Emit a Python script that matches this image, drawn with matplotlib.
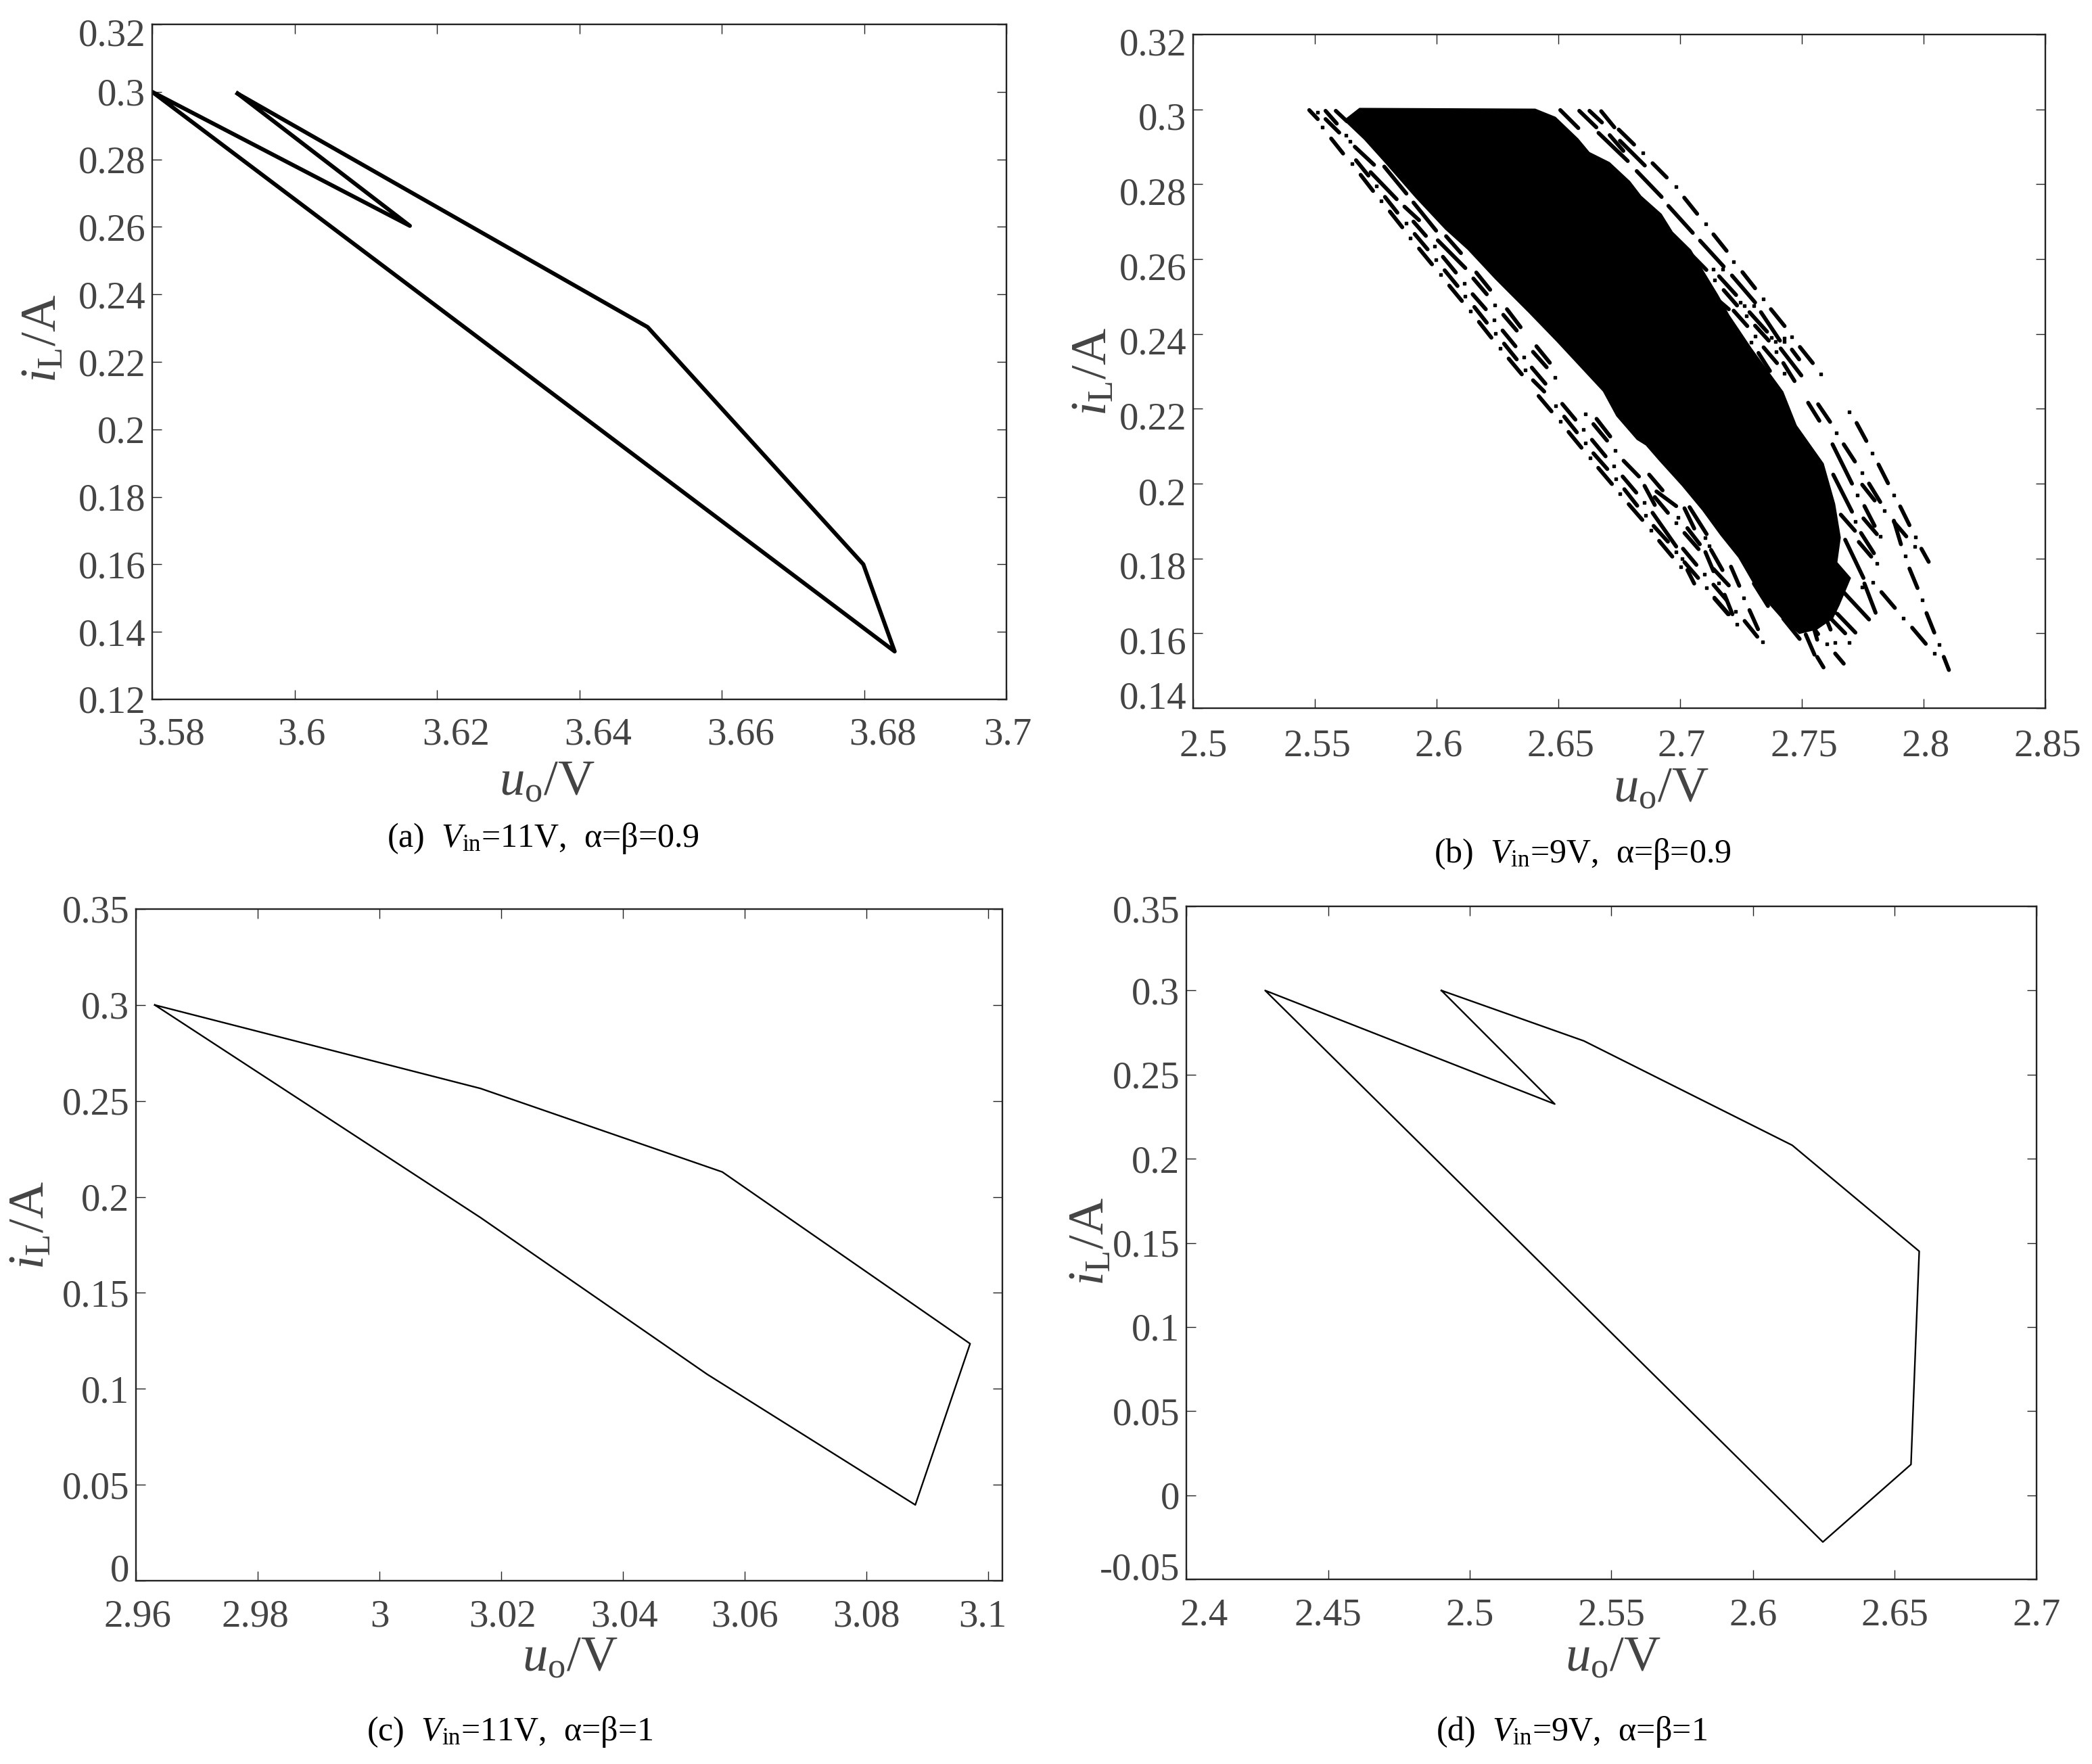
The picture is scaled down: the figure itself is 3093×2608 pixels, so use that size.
# Phase portraits iL - uo, four panels
import numpy as np
import matplotlib
matplotlib.use('Agg')
from matplotlib import pyplot as plt
from matplotlib.transforms import ScaledTranslation

plt.rcParams['font.family'] = ['Liberation Serif', 'DejaVu Serif']
plt.rcParams['mathtext.fontset'] = 'custom'
plt.rcParams['mathtext.rm'] = 'Liberation Serif'
plt.rcParams['mathtext.it'] = 'Liberation Serif:italic'

W, H = 3093, 2608
GREY = '#444444'

# panel (a)
a_u = [3.592, 3.6496, 3.6799, 3.6843, 3.58, 3.6162, 3.592]
a_i = [0.2995, 0.2303, 0.16, 0.1342, 0.3, 0.2603, 0.2995]
a_xticks = [3.58, 3.6, 3.62, 3.64, 3.66, 3.68, 3.7]
a_xlabels = ['3.58', '3.6', '3.62', '3.64', '3.66', '3.68', '3.7']
a_yticks = [0.12, 0.14, 0.16, 0.18, 0.2, 0.22, 0.24, 0.26, 0.28, 0.3, 0.32]
a_ylabels = ['0.12', '0.14', '0.16', '0.18', '0.2', '0.22', '0.24', '0.26', '0.28', '0.3', '0.32']

# panel (c)
c_u = [2.9631, 3.0166, 3.0563, 3.097, 3.088, 3.0538, 3.0166, 2.9631]
c_i = [0.3, 0.2565, 0.213, 0.1235, 0.0395, 0.1076, 0.1892, 0.3]
c_xticks = [2.96, 2.98, 3.0, 3.02, 3.04, 3.06, 3.08, 3.1]
c_xlabels = ['2.96', '2.98', '3', '3.02', '3.04', '3.06', '3.08', '3.1']
c_yticks = [0, 0.05, 0.1, 0.15, 0.2, 0.25, 0.3, 0.35]
c_ylabels = ['0', '0.05', '0.1', '0.15', '0.2', '0.25', '0.3', '0.35']

# panel (d)
d_u = [2.49, 2.5403, 2.6138, 2.6586, 2.6557, 2.6246, 2.4278, 2.53, 2.49]
d_i = [0.3, 0.27, 0.208, 0.145, 0.0183, -0.0278, 0.3, 0.2325, 0.3]
d_xticks = [2.4, 2.45, 2.5, 2.55, 2.6, 2.65, 2.7]
d_xlabels = ['2.4', '2.45', '2.5', '2.55', '2.6', '2.65', '2.7']
d_yticks = [-0.05, 0, 0.05, 0.1, 0.15, 0.2, 0.25, 0.3, 0.35]
d_ylabels = ['-0.05', '0', '0.05', '0.1', '0.15', '0.2', '0.25', '0.3', '0.35']

# panel (b): the solid black core, outline
b_core_u = [2.5683, 2.6405, 2.6489, 2.6582, 2.6628, 2.6711, 2.6795, 2.6841, 2.6924, 2.6970,
            2.7045, 2.7100, 2.7156, 2.7202, 2.7295, 2.7369, 2.7424, 2.7479, 2.7590, 2.7637,
            2.7660, 2.7646, 2.7702, 2.7655, 2.7628, 2.7563, 2.7489, 2.7424,
            2.7359, 2.7303, 2.7239, 2.7165, 2.7091, 2.7007, 2.6915, 2.6859, 2.6822, 2.6738, 2.6683,
            2.6493, 2.6377, 2.6294, 2.6239, 2.6127, 2.6035, 2.5914, 2.5785, 2.5702, 2.5618]
b_core_i = [0.3004, 0.3002, 0.2980, 0.2922, 0.2886, 0.2859, 0.2808, 0.2769, 0.2721, 0.2673,
            0.2625, 0.2565, 0.2505, 0.2451, 0.2361, 0.2295, 0.2246, 0.2156, 0.2054, 0.1946,
            0.1856, 0.1790, 0.1748, 0.1675, 0.1639, 0.1610, 0.1598, 0.1634,
            0.1682, 0.1730, 0.1802, 0.1862, 0.1928, 0.1994, 0.2060, 0.2102, 0.2117, 0.2180, 0.2246,
            0.2379, 0.2457, 0.2511, 0.2547, 0.2625, 0.2679, 0.2763, 0.2859, 0.2919, 0.2971]

# panel (b): dashes around the core, u start, i start, u end, i end
b_dashes = np.array([
    (2.5477, .2998, 2.5512, .2974), (2.5544, .2996, 2.5590, .2962), (2.5544, .2974, 2.5600, .2938),
    (2.5567, .2922, 2.5616, .2882), (2.5586, .2996, 2.5632, .2968), (2.5664, .2900, 2.5743, .2852),
    (2.5669, .2864, 2.5720, .2823), (2.5688, .2825, 2.5739, .2782), (2.5729, .2832, 2.5836, .2760),
    (2.5785, .2847, 2.5876, .2775), (2.5788, .2766, 2.5839, .2724), (2.5808, .2727, 2.5859, .2685),
    (2.5868, .2740, 2.5928, .2704), (2.5905, .2751, 2.5998, .2676), (2.5905, .2700, 2.5956, .2662),
    (2.5910, .2667, 2.5963, .2626), (2.5928, .2628, 2.5981, .2586), (2.6005, .2650, 2.6118, .2576),
    (2.6039, .2661, 2.6100, .2616), (2.6026, .2606, 2.6079, .2564), (2.6033, .2570, 2.6086, .2528),
    (2.6052, .2529, 2.6104, .2488), (2.6151, .2548, 2.6206, .2506), (2.6163, .2564, 2.6220, .2518),
    (2.6148, .2506, 2.6202, .2466), (2.6155, .2472, 2.6206, .2430), (2.6174, .2432, 2.6225, .2390),
    (2.6274, .2451, 2.6329, .2409), (2.6289, .2466, 2.6345, .2418), (2.6271, .2409, 2.6324, .2367),
    (2.6277, .2374, 2.6329, .2332), (2.6296, .2334, 2.6350, .2292), (2.6396, .2352, 2.6452, .2311),
    (2.6410, .2367, 2.6465, .2323), (2.6391, .2310, 2.6447, .2267), (2.6396, .2276, 2.6442, .2246),
    (2.6508, .2998, 2.6582, .2950), (2.6586, .2996, 2.6656, .2952), (2.6628, .2996, 2.6679, .2965),
    (2.6676, .2995, 2.6730, .2952), (2.6748, .2946, 2.6811, .2906), (2.6665, .2937, 2.6785, .2862),
    (2.6711, .2931, 2.6767, .2889), (2.6753, .2916, 2.6855, .2850), (2.6887, .2856, 2.6945, .2818),
    (2.6822, .2835, 2.6924, .2766), (2.7017, .2764, 2.7070, .2721), (2.6952, .2742, 2.7052, .2670),
    (2.7082, .2649, 2.7179, .2580), (2.7137, .2666, 2.7191, .2622), (2.7049, .2610, 2.7108, .2571),
    (2.7160, .2554, 2.7230, .2504), (2.7213, .2556, 2.7308, .2484), (2.7256, .2565, 2.7308, .2522),
    (2.7179, .2517, 2.7234, .2476), (2.7135, .2502, 2.7200, .2466), (2.7220, .2462, 2.7276, .2421),
    (2.7285, .2458, 2.7357, .2406), (2.7332, .2458, 2.7410, .2382), (2.7373, .2466, 2.7429, .2421),
    (2.7308, .2422, 2.7364, .2382), (2.7343, .2364, 2.7398, .2322), (2.7322, .2349, 2.7369, .2301),
    (2.7413, .2361, 2.7498, .2289), (2.7459, .2358, 2.7489, .2332), (2.7492, .2365, 2.7545, .2322),
    (2.7424, .2322, 2.7470, .2274),
    (2.6419, .2234, 2.6472, .2193), (2.6516, .2213, 2.6570, .2171), (2.6524, .2179, 2.6576, .2137),
    (2.6542, .2138, 2.6595, .2096), (2.6644, .2159, 2.6700, .2115), (2.6657, .2173, 2.6713, .2126),
    (2.6638, .2117, 2.6694, .2073), (2.6644, .2081, 2.6701, .2039), (2.6664, .2042, 2.6720, .1999),
    (2.6768, .2061, 2.6831, .2019), (2.6764, .2019, 2.6820, .1976), (2.6771, .1985, 2.6824, .1941),
    (2.6789, .1945, 2.6845, .1903), (2.6873, .2024, 2.6928, .1982), (2.6854, .1994, 2.6896, .1943),
    (2.6896, .1964, 2.6950, .1922), (2.6903, .1979, 2.6984, .1940), (2.6887, .1922, 2.6984, .1832),
    (2.6891, .1887, 2.6950, .1845), (2.6914, .1847, 2.6968, .1805), (2.7018, .1934, 2.7058, .1880),
    (2.7039, .1937, 2.7109, .1865), (2.7030, .1881, 2.7081, .1838), (2.7018, .1868, 2.7076, .1825),
    (2.7012, .1826, 2.7067, .1783), (2.7018, .1790, 2.7074, .1748), (2.7030, .1769, 2.7058, .1733),
    (2.7104, .1817, 2.7137, .1766), (2.7127, .1823, 2.7174, .1769), (2.7137, .1772, 2.7200, .1728),
    (2.7137, .1730, 2.7192, .1688), (2.7141, .1695, 2.7200, .1651), (2.7183, .1703, 2.7215, .1651),
    (2.7725, .2162, 2.7765, .2114), (2.7815, .2051, 2.7854, .2001), (2.7904, .1939, 2.7942, .1889),
    (2.7878, .1901, 2.7907, .1838), (2.7878, .1898, 2.7929, .1859), (2.7991, .1826, 2.8021, .1791),
    (2.7942, .1773, 2.7975, .1721), (2.8012, .1654, 2.8044, .1602), (2.7953, .1615, 2.8009, .1572),
    (2.8083, .1537, 2.8104, .1502), (2.7827, .1710, 2.7882, .1668), (2.7748, .1997, 2.7799, .1955),
    (2.7776, .2000, 2.7822, .1951), (2.7757, .1940, 2.7799, .1887), (2.7753, .1907, 2.7808, .1865),
    (2.7743, .1868, 2.7796, .1814), (2.7734, .1844, 2.7785, .1805), (2.7672, .2105, 2.7718, .2059),
    (2.7567, .2212, 2.7616, .2165), (2.7526, .2216, 2.7572, .2168), (2.7626, .2105, 2.7706, .2000),
    (2.7629, .2024, 2.7706, .1925), (2.7660, .1917, 2.7718, .1874), (2.7757, .1733, 2.7803, .1655),
    (2.7660, .1718, 2.7776, .1637), (2.7678, .1850, 2.7753, .1748), (2.7586, .1661, 2.7618, .1610),
    (2.7609, .1646, 2.7678, .1600), (2.7646, .1652, 2.7720, .1602), (2.7637, .1546, 2.7672, .1519),
    (2.7563, .1537, 2.7589, .1509), (2.7516, .1597, 2.7552, .1543), (2.7424, .1639, 2.7491, .1585),
    (2.7498, .1658, 2.7567, .1598), (2.7540, .1634, 2.7563, .1583), (2.7285, .1662, 2.7320, .1611),
    (2.7265, .1633, 2.7317, .1591), (2.7141, .1693, 2.7197, .1651), (2.7303, .1733, 2.7361, .1673),
    (2.7387, .1688, 2.7433, .1639), (2.7503, .1706, 2.7544, .1648), (2.7591, .1702, 2.7637, .1655),
    (2.7209, .1778, 2.7243, .1727),
])

# panel (b): single points between the dashes
b_dots_u = [2.5510, 2.5530, 2.5627, 2.5644, 2.5652, 2.5752, 2.5771, 2.5875, 2.5893, 2.5991, 2.5996,
            2.6016, 2.6114, 2.6118, 2.6139, 2.6239, 2.6235, 2.6241, 2.6260, 2.6357, 2.6364, 2.6487,
            2.6847, 2.6984, 2.7105, 2.7220, 2.7137, 2.7176, 2.7142, 2.7248, 2.7265, 2.7302, 2.7341,
            2.7271, 2.7308, 2.7292, 2.7376, 2.7427, 2.7427, 2.7392, 2.7458, 2.7395, 2.7577, 2.7429,
            2.6488, 2.6507, 2.6604, 2.6611, 2.6630, 2.6729, 2.6736, 2.6754, 2.6852, 2.6857, 2.6880,
            2.6982, 2.7009, 2.7002, 2.7101, 2.7107, 2.7158, 2.7227, 2.7232, 2.6993, 2.6982, 2.7102,
            2.7120, 2.6734, 2.6611, 2.7695, 2.7641, 2.7790, 2.7746, 2.7878, 2.7729, 2.7839, 2.7720,
            2.7967, 2.7965, 2.7822, 2.7926, 2.7808, 2.7791, 2.7995, 2.7917, 2.8063, 2.8044, 2.7339,
            2.7262, 2.7603, 2.7637, 2.7694, 2.7563, 2.7579, 2.7748]
b_dots_i = [.2993, .2953, .2930, .2914, .2855, .2795, .2755, .2696, .2656, .2634, .2598,
            .2559, .2535, .2500, .2460, .2478, .2437, .2402, .2362, .2338, .2304, .2284,
            .2883, .2793, .2694, .2593, .2572, .2572, .2544, .2485, .2476, .2476, .2494,
            .2449, .2394, .2377, .2390, .2388, .2379, .2379, .2392, .2352, .2293, .2295,
            .2207, .2167, .2144, .2109, .2069, .2047, .2012, .1972, .1949, .1915, .1875,
            .1818, .1799, .1778, .1757, .1721, .1734, .1659, .1624, .1910, .1895, .1856,
            .1833, .2089, .2186, .2192, .2135, .2082, .2029, .1970, .1970, .1928, .1898,
            .1858, .1832, .1859, .1806, .1786, .1737, .1689, .1641, .1569, .1546, .1578,
            .1695, .1572, .1576, .1575, .1695, .1673, .1724]
b_xticks = [2.5, 2.55, 2.6, 2.65, 2.7, 2.75, 2.8, 2.85]
b_xlabels = ['2.5', '2.55', '2.6', '2.65', '2.7', '2.75', '2.8', '2.85']
b_yticks = [0.14, 0.16, 0.18, 0.2, 0.22, 0.24, 0.26, 0.28, 0.3, 0.32]
b_ylabels = ['0.14', '0.16', '0.18', '0.2', '0.22', '0.24', '0.26', '0.28', '0.3', '0.32']

fig = plt.figure(figsize=(W / 100, H / 100), dpi=100)


def make_axes(box, xlim, ylim, xticks, xlabels, yticks, ylabels, xoff, yoff, xpad):
    # box is left, right, top, bottom of the frame in picture pixels
    l, r, t, b = box
    ax = fig.add_axes([l / W, 1 - b / H, (r - l) / W, (b - t) / H])
    ax.set_xlim(*xlim)
    ax.set_ylim(*ylim)
    ax.set_xticks(xticks, labels=xlabels)
    ax.set_yticks(yticks, labels=ylabels)
    ax.tick_params(direction='in', top=True, right=True, length=10, width=1.0, color='#222222',
                   labelsize=41, labelcolor=GREY)
    ax.tick_params(axis='x', pad=xpad)
    ax.tick_params(axis='y', pad=7)
    for s in ax.spines.values():
        s.set_linewidth(1.7)
        s.set_color('#222222')
    # the labels of the original do not sit exactly on their ticks
    for lab, dx in zip(ax.get_xticklabels(), xoff):
        lab.set_transform(lab.get_transform() + ScaledTranslation(dx / 100, 0, fig.dpi_scale_trans))
    for lab, dy in zip(ax.get_yticklabels(), yoff):
        lab.set_transform(lab.get_transform() + ScaledTranslation(0, -dy / 100, fig.dpi_scale_trans))
    return ax


def labels(xlab, ylab, cap):
    fig.text(xlab[0] / W, 1 - xlab[1] / H, r'$\mathit{u}_{\mathrm{o}}$/V', fontsize=54, color=GREY,
             ha='center', va='center')
    fig.text(ylab[0] / W, 1 - ylab[1] / H, r'$\mathit{i}_{\mathrm{L}}$/A', fontsize=54, color=GREY,
             ha='center', va='center', rotation=90)
    fig.text(cap[0] / W, 1 - cap[1] / H, cap[2], fontsize=36, color='black', ha='center', va='center')


ax_a = make_axes((225, 1488, 36, 1034), (3.58, 3.7), (0.12, 0.32), a_xticks, a_xlabels, a_yticks, a_ylabels,
                 [28, 10, 28, 28, 28, 28, 2], [0, 0, 0, 0, 0, 0, 0, 0, 0, 0, 12], 19)
ax_a.plot(a_u, a_i, color='black', lw=4.3)
labels((809, 1158), (65, 500), (803, 1240, r'(a)  $\mathit{V}_{\mathrm{in}}$=11V,  α=β=0.9'))

ax_b = make_axes((1764, 3024, 51, 1047), (2.5, 2.85), (0.14, 0.32), b_xticks, b_xlabels, b_yticks, b_ylabels,
                 [15, 3, 3, 4, 2, 3, 3, 3], [-19, 10, 10, 12, 10, 10, 10, 10, 10, 10], 22)
ax_b.fill(b_core_u, b_core_i, color='black', lw=0)
for u0, i0, u1, i1 in b_dashes:
    ax_b.plot([u0, u1], [i0, i1], color='black', lw=4.2, solid_capstyle='round')
ax_b.plot(b_dots_u, b_dots_i, ls='none', marker='s', ms=3.5, color='black')
labels((2456, 1168), (1618, 549), (2340, 1263, r'(b)  $\mathit{V}_{\mathrm{in}}$=9V,  α=β=0.9'))

ax_c = make_axes((201, 1482, 1344, 2337), (2.96, 3.1023), (0, 0.35), c_xticks, c_xlabels, c_yticks, c_ylabels,
                 [2, -4, 0, 2, 2, 0, 0, -8], [-20, 0, 0, 0, 0, 0, 0, 0], 20)
ax_c.plot(c_u, c_i, color='black', lw=1.7)
labels((843, 2453), (47, 1811), (754, 2561, r'(c)  $\mathit{V}_{\mathrm{in}}$=11V,  α=β=1'))

ax_d = make_axes((1754, 3011, 1340, 2335), (2.4, 2.7), (-0.05, 0.35), d_xticks, d_xlabels, d_yticks, d_ylabels,
                 [26, 0, 0, 0, 0, 0, 0], [-20, 0, 0, 0, 0, 0, 0, 0, 4], 20)
ax_d.plot(d_u, d_i, color='black', lw=1.7)
labels((2385, 2453), (1614, 1835), (2324, 2561, r'(d)  $\mathit{V}_{\mathrm{in}}$=9V,  α=β=1'))

fig.savefig('out.png', dpi=100)
